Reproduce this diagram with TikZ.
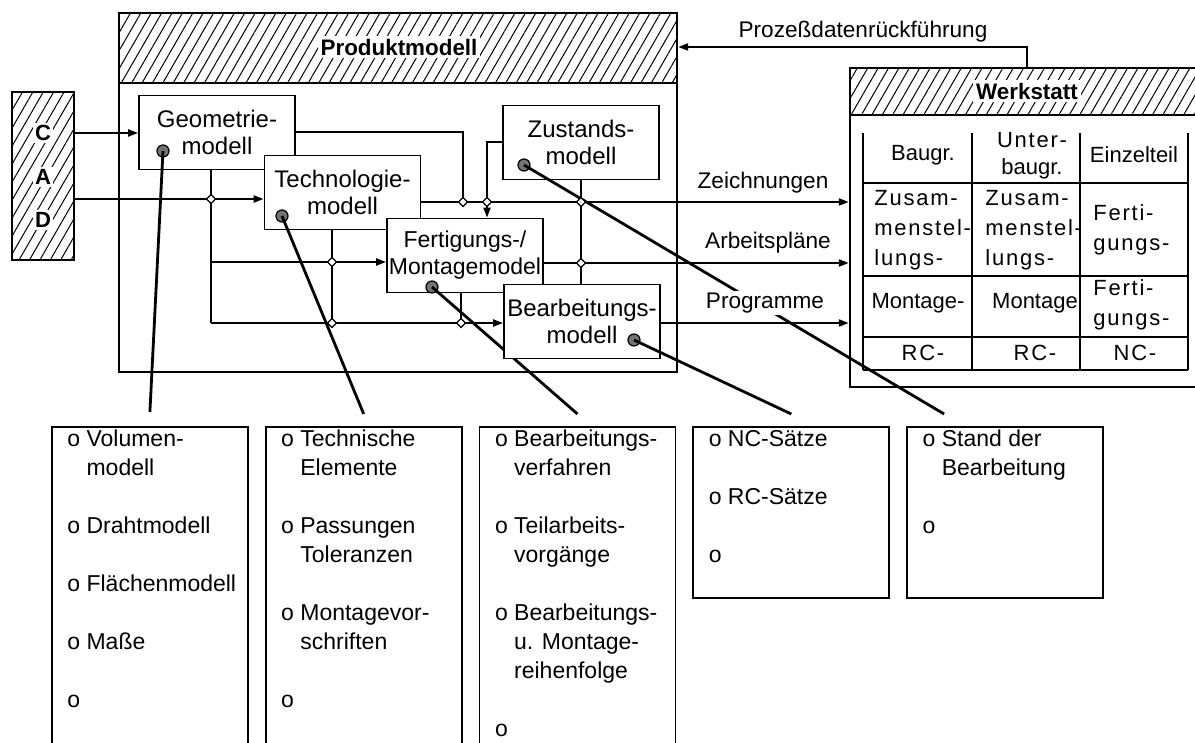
\documentclass[tikz,border=0pt]{standalone}
\usepackage{fontspec}
\setmainfont{Liberation Sans}
\newfontfamily\widefont[LetterSpace=8]{Liberation Sans}
\usetikzlibrary{arrows.meta,patterns.meta,positioning}

\begin{document}
\begin{tikzpicture}[
    x=0.5pt, y=-0.5pt,
    modelbox/.style={rectangle, draw, line width=0.9pt, fill=white,
        minimum width=78pt, minimum height=37pt, inner sep=0.5pt,
        align=center, font=\fontsize{12}{13.5}\selectfont},
    listbox/.style={rectangle, draw, line width=0.9pt,
        minimum width=98pt, anchor=north west},
    listtext/.style={anchor=north west, inner sep=0pt,
        font=\fontsize{11.5}{14.5}\selectfont},
    hatchbox/.style={rectangle, draw, line width=1.2pt,
        pattern={Lines[angle=60, distance=4.5pt, line width=0.5pt]}},
    headlabel/.style={fill=white, inner sep=1.5pt,
        font=\fontsize{11.2}{13}\selectfont\bfseries},
    cadletter/.style={fill=white, inner sep=1pt,
        font=\fontsize{11}{13}\selectfont\bfseries},
    flow/.style={line width=1pt, -{Triangle[length=5pt, width=3.5pt]}},
    link/.style={line width=1pt},
    lead/.style={line width=1.4pt},
    knot/.style={rectangle, rotate=45, draw, fill=white, line width=0.6pt,
        inner sep=0pt, minimum size=3.2pt},
    pin/.style={circle, draw, fill=black!55, line width=0.6pt,
        inner sep=0pt, minimum size=6pt},
    lbl/.style={inner sep=1pt, font=\fontsize{11.3}{13}\selectfont},
    cell/.style={inner sep=0pt, align=center,
        font=\fontsize{11}{15}\selectfont},
    grid/.style={line width=0.9pt},
    ]
    \useasboundingbox (0,0) rectangle (1195,743);
    \clip (0,0) rectangle (1195,743);

    \node[rectangle, draw, line width=1.2pt,
        minimum width=279pt, minimum height=179.5pt] (P) at (398,192.5) {};
    \node[hatchbox, minimum width=279pt, minimum height=35pt] (PH) at (398,48) {};
    \node[headlabel] (PL) at (399,47) {Produktmodell};

    \node[hatchbox, minimum width=31pt, minimum height=84pt] (CAD) at (43,176) {};
    \node[cadletter] (C) at (43,133) {C};
    \node[cadletter] (A) at (43,177) {A};
    \node[cadletter] (D) at (43,220) {D};

    \node[rectangle, draw, line width=1.2pt,
        minimum width=175pt, minimum height=159.5pt] (W) at (1025,227.5) {};
    \node[hatchbox, minimum width=175pt, minimum height=23.5pt] (WH) at (1025,91.5) {};
    \node[headlabel] (WL) at (1027,91) {Werkstatt};

    \foreach \x in {863,972,1080,1188}
        \draw[grid] (\x,133) -- (\x,370);
    \foreach \y in {183,276,337,370}
        \draw[grid] (863,\y) -- (1188,\y);

    \node[cell] (c11) at (923,155) {Baugr.};
    \node[cell, font=\fontsize{11}{13.5}\selectfont] (c12) at (1032,156) {\widefont Unter-\\baugr.};
    \node[cell] (c13) at (1134,155) {Einzelteil};
    \node[cell, align=left, anchor=west] (c21) at (874,230) {\widefont Zusam-\\\widefont menstel-\\\widefont lungs-};
    \node[cell, align=left, anchor=west] (c22) at (985,230) {\widefont Zusam-\\\widefont menstel-\\\widefont lungs-};
    \node[cell, align=left, anchor=west] (c23) at (1093,230) {\widefont Ferti-\\\widefont gungs-};
    \node[cell] (c31) at (918,303) {Montage-};
    \node[cell] (c32) at (1035,303) {Montage};
    \node[cell, align=left, anchor=west] (c33) at (1093,305) {\widefont Ferti-\\\widefont gungs-};
    \node[cell] (c41) at (923,353) {\widefont RC-};
    \node[cell] (c42) at (1035,353) {\widefont RC-};
    \node[cell] (c43) at (1135,353) {\widefont NC-};

    \node[listbox, minimum height=167pt] (geoList) at (51,426) {};
    \node[listbox, minimum height=167pt] (techList) at ([xshift=8pt]geoList.north east) {};
    \node[listbox, minimum height=167pt] (procList) at ([xshift=8pt]techList.north east) {};
    \node[listbox, minimum height=85.5pt] (ncList) at ([xshift=8pt]procList.north east) {};
    \node[listbox, minimum height=85.5pt] (stateList) at ([xshift=8pt]ncList.north east) {};

    \node[listtext] (geoText) at ([xshift=8pt]geoList.north west) {%
        \begin{tabular}{@{}l@{\ }l@{}}
        o & Volumen-\\ & modell\\[14.5pt]
        o & Drahtmodell\\[14.5pt]
        o & Flächenmodell\\[14.5pt]
        o & Maße\\[14.5pt]
        o &
        \end{tabular}};
    \node[listtext] (techText) at ([xshift=8pt]techList.north west) {%
        \begin{tabular}{@{}l@{\ }l@{}}
        o & Technische\\ & Elemente\\[14.5pt]
        o & Passungen\\ & Toleranzen\\[14.5pt]
        o & Montagevor-\\ & schriften\\[14.5pt]
        o &
        \end{tabular}};
    \node[listtext] (procText) at ([xshift=8pt]procList.north west) {%
        \begin{tabular}{@{}l@{\ }l@{}}
        o & Bearbeitungs-\\ & verfahren\\[14.5pt]
        o & Teilarbeits-\\ & vorgänge\\[14.5pt]
        o & Bearbeitungs-\\ & u. Montage-\\ & reihenfolge\\[14.5pt]
        o &
        \end{tabular}};
    \node[listtext] (ncText) at ([xshift=8pt]ncList.north west) {%
        \begin{tabular}{@{}l@{\ }l@{}}
        o & NC-Sätze\\[14.5pt]
        o & RC-Sätze\\[14.5pt]
        o &
        \end{tabular}};
    \node[listtext] (stateText) at ([xshift=8pt]stateList.north west) {%
        \begin{tabular}{@{}l@{\ }l@{}}
        o & Stand der\\ & Bearbeitung\\[14.5pt]
        o &
        \end{tabular}};

    \node[modelbox] (G) at (217,132.5) {Geometrie-\\modell};
    \node[modelbox] (T) at (342.5,192.5) {Technologie-\\modell};
    \node[modelbox] (Z) at (581,142.5) {Zustands-\\modell};
    \node[modelbox, font=\fontsize{11.5}{13.5}\selectfont] (F) at (465,255.5) {Fertigungs-/\\Montagemodel};

    \node[pin] (fPin) at (432,287) {};
    \draw[lead] (fPin.center) -- ([yshift=6pt]procList.north);

    \node[modelbox] (B) at (582,321.5) {Bearbeitungs-\\modell};

    \node[pin] (gPin) at (163,151) {};
    \node[pin] (tPin) at (282,216) {};
    \node[pin] (zPin) at (524,165) {};
    \node[pin] (bPin) at (634,340) {};
    \draw[lead] (gPin.center) -- ([yshift=7pt]geoList.north);
    \draw[lead] (tPin.center) -- ([yshift=6pt]techList.north);
    \draw[lead] (bPin.center) -- ([yshift=6pt]ncList.north);
    \draw[lead] (zPin.center) -- ([xshift=-30.5pt, yshift=6pt]stateList.north);

    \coordinate (k1) at (211,199);
    \coordinate (k2) at (332,262);
    \coordinate (k3) at (332,323);
    \coordinate (k4) at (461,323);
    \coordinate (k5) at (463,202);
    \coordinate (k6) at (581,202);
    \coordinate (k7) at (581,263);
    \coordinate (k8) at (487,202);
    \coordinate (c1) at (211,262);
    \coordinate (c2) at (211,323);
    \coordinate (zTurn) at (487,142.5);
    \coordinate (fb) at (1027,47);

    \draw[flow] (CAD.east |- C) -- (G.west |- C);
    \draw[flow] (CAD.east |- k1) -- (T.west |- k1);
    \draw[link] (G.south -| k1) -- (c2);
    \draw[flow] (c1) -- (F.west |- c1);
    \draw[flow] (c2) -- (B.west |- c2);
    \draw[link] (T.south -| k2) -- (k3);
    \draw[link] (F.south -| k4) -- (k4);
    \draw[link] (G.east) -| (k5);
    \draw[flow] (Z.west) -- (zTurn) -- (zTurn |- F.north);
    \draw[link] (Z.south -| k6) -- (B.north -| k6);

    \draw[flow] (T.east |- k5) -- (W.west |- k5);
    \draw[flow] (F.east |- k7) -- (W.west |- k7);
    \draw[flow] (B.east |- c2) -- (W.west |- c2);
    \draw[flow] (W.north -| fb) |- (P.east |- fb);

    \node[lbl] (drawLbl) at (763,183) {Zeichnungen};
    \node[lbl] (planLbl) at (768,243) {Arbeitspläne};
    \node[lbl, fill=white] (progLbl) at (765,303) {Programme};
    \node[lbl] (fbLbl) at (863,32) {Prozeßdatenrückführung};

    \foreach \k in {k1,k2,k3,k4,k5,k6,k7,k8}
        \node[knot] at (\k) {};
\end{tikzpicture}
\end{document}
